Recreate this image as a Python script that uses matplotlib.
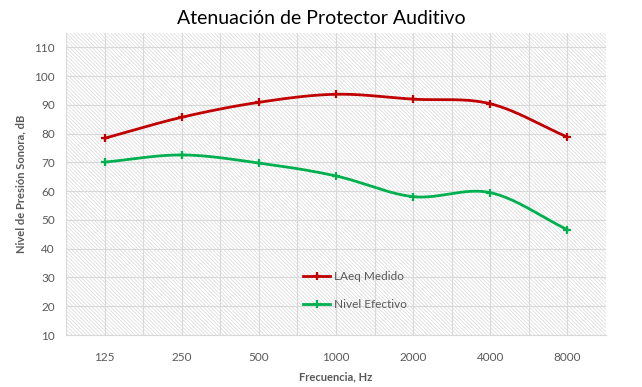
import numpy as np
import matplotlib
matplotlib.use("Agg")
from matplotlib import pyplot as plt
from matplotlib.patches import Rectangle
from matplotlib.lines import Line2D

frecuencias = ["125", "250", "500", "1000", "2000", "4000", "8000"]
laeq_medido = [78.4, 85.7, 90.9, 93.7, 92.0, 90.4, 78.8]
nivel_efectivo = [70.1, 72.6, 69.8, 65.3, 58.1, 59.5, 46.6]

plt.rcParams['font.family'] = ['Lato', 'DejaVu Sans']
plt.rcParams['hatch.linewidth'] = 0.5
plt.rcParams['hatch.color'] = '#d9d9d9'

gris = '#595959'
rojo = '#c00000'
verde = '#00b050'


def suavizar(x, y, n=30):
    # curva tipo "linea suavizada" de Excel (Catmull-Rom)
    x = np.asarray(x, float)
    y = np.asarray(y, float)
    px = np.concatenate([[2 * x[0] - x[1]], x, [2 * x[-1] - x[-2]]])
    py = np.concatenate([[2 * y[0] - y[1]], y, [2 * y[-1] - y[-2]]])
    xs, ys = [], []
    t = np.linspace(0, 1, n)
    for i in range(1, len(px) - 2):
        for p, out in ((px, xs), (py, ys)):
            p0, p1, p2, p3 = p[i - 1], p[i], p[i + 1], p[i + 2]
            out.extend(0.5 * ((2 * p1) + (-p0 + p2) * t
                              + (2 * p0 - 5 * p1 + 4 * p2 - p3) * t ** 2
                              + (-p0 + 3 * p1 - 3 * p2 + p3) * t ** 3))
    return xs, ys


fig = plt.figure(figsize=(6.42, 3.87), dpi=100)
ax = fig.add_axes([66 / 642, 1 - 335 / 387, 540 / 642, 302 / 387])

ax.add_patch(Rectangle((0, 0), 1, 1, transform=ax.transAxes, facecolor='white',
                       hatch='\\' * 9, edgecolor='#d9d9d9', linewidth=0, zorder=0))

x = np.arange(len(frecuencias))
ax.set_xlim(-0.5, len(frecuencias) - 0.5)
ax.set_ylim(10, 115)
ax.set_yticks(np.arange(10, 111, 10))
ax.set_xticks(x)
ax.set_xticklabels(frecuencias)
ax.set_xticks(np.arange(-0.5, len(frecuencias)), minor=True)
ax.grid(True, which='both', color='#d9d9d9', linewidth=0.8, zorder=1)
ax.set_axisbelow(True)
ax.tick_params(which='both', length=0, colors=gris, labelsize=8.5)
ax.tick_params(axis='x', pad=12)
ax.tick_params(axis='y', pad=8)
for s in ['top', 'right', 'left']:
    ax.spines[s].set_visible(False)
ax.spines['bottom'].set_color('#d9d9d9')

for serie, color in ((laeq_medido, rojo), (nivel_efectivo, verde)):
    sx, sy = suavizar(x, serie)
    ax.plot(sx, sy, color=color, linewidth=2, zorder=3, solid_capstyle='round')
    ax.plot(x, serie, linestyle='none', marker='+', markersize=6,
            markeredgewidth=1.6, color=color, zorder=4)

handles = [Line2D([], [], color=rojo, linewidth=2, marker='+', markersize=6, markeredgewidth=1.6),
           Line2D([], [], color=verde, linewidth=2, marker='+', markersize=6, markeredgewidth=1.6)]
ax.legend(handles, ["LAeq Medido", "Nivel Efectivo"], loc='center',
          bbox_to_anchor=(0.535, 0.147), frameon=False, fontsize=8.5,
          labelcolor=gris, handlelength=2.3, handletextpad=0.3, labelspacing=1.5)

ax.set_xlabel("Frecuencia, Hz", color=gris, fontsize=8, fontweight='bold', labelpad=6)
ax.set_ylabel("Nivel de Presión Sonora, dB", color=gris, fontsize=8, fontweight='bold', labelpad=6)
fig.text(0.5, 1 - 19 / 387, "Atenuación de Protector Auditivo", ha='center', va='center',
         fontsize=14, color='black')

fig.savefig("out.png", dpi=100)
